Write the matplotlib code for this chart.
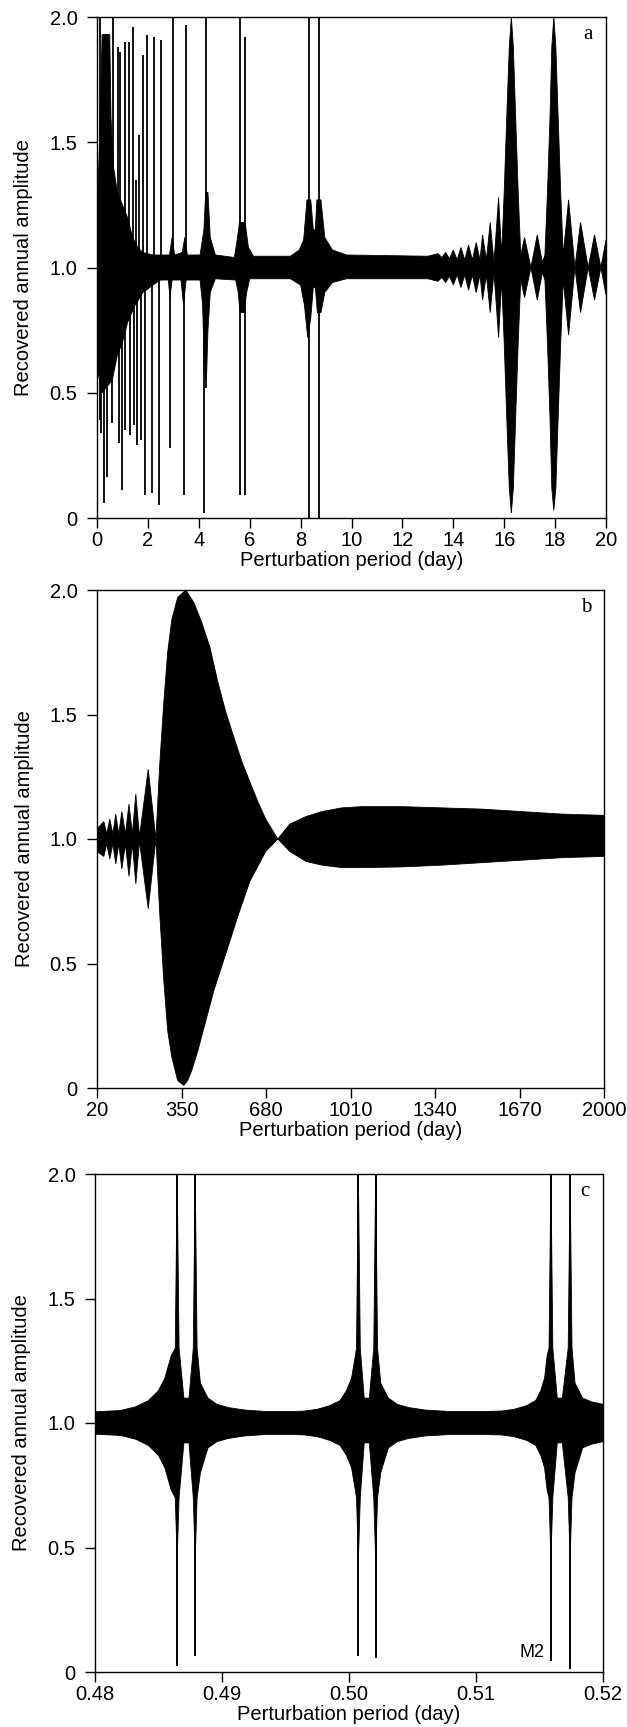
import numpy as np
import matplotlib
matplotlib.use("Agg")
import matplotlib.pyplot as plt

plt.rcParams['font.family'] = ['Liberation Sans', 'DejaVu Sans']

# ---------------- Panel a : 0 - 20 day ----------------
a_up_x = [0.00, 0.10, 0.20, 0.50, 0.55, 0.65, 0.80, 1.00, 1.20, 1.40, 1.60, 1.80, 2.20, 2.85,
          2.95, 3.05, 3.35, 3.45, 3.55, 4.05, 4.20, 4.27, 4.36, 4.45, 4.65, 5.40, 5.52, 5.60,
          5.82, 5.95, 6.15, 7.60, 7.95, 8.12, 8.25, 8.40, 8.50, 8.58, 8.64, 8.80, 8.95, 9.25,
          9.80, 13.0, 13.4, 13.55, 13.7, 13.85, 14.0, 14.15, 14.3, 14.45, 14.6, 14.75, 14.9,
          15.05, 15.15, 15.3, 15.45, 15.6, 15.78, 15.9,
          16.0, 16.1, 16.2, 16.28, 16.36, 16.45, 16.55, 16.65, 16.80, 17.05, 17.30, 17.5,
          17.6, 17.7, 17.8, 17.87, 17.95, 18.03, 18.12, 18.22, 18.32, 18.53, 18.78, 19.0,
          19.3, 19.55, 19.8, 20.0]
a_up_y = [1.20, 1.50, 1.93, 1.93, 1.60, 1.40, 1.30, 1.25, 1.20, 1.12, 1.08, 1.06, 1.05, 1.05,
          1.12, 1.05, 1.06, 1.12, 1.05, 1.05, 1.15, 1.30, 1.30, 1.12, 1.05, 1.04, 1.12, 1.18,
          1.18, 1.08, 1.045, 1.045, 1.07, 1.11, 1.27, 1.27, 1.15, 1.15, 1.27, 1.27, 1.12, 1.07,
          1.05, 1.045, 1.055, 1.04, 1.06, 1.035, 1.07, 1.03, 1.08, 1.03, 1.09, 1.03, 1.10,
          1.03, 1.13, 1.03, 1.18, 1.02, 1.28, 1.05,
          1.30, 1.60, 1.88, 2.00, 1.88, 1.60, 1.30, 1.05, 1.12, 1.00, 1.13, 1.02,
          1.05, 1.30, 1.60, 1.88, 2.00, 1.88, 1.60, 1.30, 1.05, 1.27, 1.00, 1.18,
          1.00, 1.13, 1.00, 1.11]
a_lo_x = [0.00, 0.20, 0.60, 0.80, 1.00, 1.20, 1.50, 1.80, 2.20, 2.50, 2.80, 2.87, 2.95, 3.30,
          3.40, 3.50, 4.05, 4.15, 4.22, 4.30, 4.36, 4.45, 4.65, 5.45, 5.55, 5.62, 5.78, 5.88,
          6.00, 7.60, 8.00, 8.15, 8.28, 8.40, 8.50, 8.58, 8.66, 8.80, 8.95, 9.25, 9.80, 13.0,
          13.4, 13.55, 13.7, 13.85, 14.0, 14.15, 14.3, 14.45, 14.6, 14.75, 14.9, 15.05, 15.15,
          15.3, 15.45, 15.6, 15.78, 15.9, 16.0, 16.1,
          16.2, 16.28, 16.36, 16.45, 16.55, 16.65, 16.80, 17.05, 17.30, 17.5, 17.6, 17.7,
          17.8, 17.87, 17.95, 18.03, 18.12, 18.22, 18.32, 18.53, 18.78, 19.0, 19.3, 19.55,
          19.8, 20.0]
a_lo_y = [0.60, 0.50, 0.55, 0.65, 0.70, 0.78, 0.85, 0.90, 0.93, 0.95, 0.95, 0.88, 0.95, 0.95,
          0.85, 0.95, 0.95, 0.85, 0.60, 0.55, 0.75, 0.90, 0.955, 0.95, 0.90, 0.82, 0.82, 0.90,
          0.955, 0.955, 0.93, 0.85, 0.72, 0.80, 0.92, 0.92, 0.82, 0.82, 0.90, 0.94, 0.955, 0.955,
          0.945, 0.96, 0.94, 0.965, 0.93, 0.97, 0.92, 0.97, 0.91, 0.97, 0.90, 0.97, 0.87,
          0.97, 0.82, 0.98, 0.72, 0.95, 0.70, 0.40,
          0.12, 0.02, 0.12, 0.40, 0.70, 0.95, 0.88, 1.00, 0.87, 0.98, 0.95, 0.70,
          0.40, 0.12, 0.03, 0.12, 0.40, 0.70, 0.95, 0.73, 1.00, 0.82, 1.00, 0.87,
          1.00, 0.89]
a_spk_x = [0.11, 0.12, 0.17, 0.27, 0.41, 0.58, 0.63, 0.83, 0.87, 0.90, 0.98, 1.09, 1.10, 1.26,
           1.28, 1.41, 1.45, 1.55, 1.59, 1.65, 1.72, 1.80, 1.88, 1.96, 2.16, 2.24, 2.43, 2.51,
           2.87, 2.97, 3.40, 3.50, 4.22, 4.30, 5.63, 5.80, 8.33, 8.71]
a_spk_lo = [0.39, 1.00, 0.34, 0.06, 0.165, 0.38, 1.00, 1.00, 0.30, 1.00, 0.11, 0.35, 1.00, 1.00,
            0.33, 1.00, 0.37, 1.00, 0.29, 1.00, 0.31, 1.00, 0.09, 1.00, 0.10, 1.00, 0.05, 1.00,
            0.28, 1.00, 0.09, 1.00, 0.02, 0.52, 0.09, 0.09, 0.00, 0.00]
a_spk_hi = [1.00, 2.00, 1.00, 1.00, 1.00, 1.00, 2.00, 1.88, 1.00, 1.86, 1.00, 1.00, 1.90, 1.90,
            1.00, 1.96, 1.00, 1.35, 1.00, 1.53, 1.00, 1.85, 1.00, 1.93, 1.00, 1.92, 1.00, 1.91,
            1.00, 2.00, 1.00, 1.97, 1.00, 2.00, 2.00, 1.92, 2.00, 2.00]

# ---------------- Panel b : 20 - 2000 day ----------------
b_up_x = [20, 46.6, 58, 70, 82, 93.4, 105, 117, 131, 145, 158, 171.6, 186, 220, 250, 265, 281,
          296, 312, 335, 367, 398, 429, 461, 492, 523, 554, 586, 617, 648, 679, 726, 773, 836,
          898, 976, 1054, 1211, 1367, 1523, 1680, 1836, 2000]
b_up_y = [1.04, 1.07, 1.02, 1.08, 1.02, 1.10, 1.02, 1.11, 1.02, 1.14, 1.02, 1.18, 1.01, 1.28,
          1.00, 1.30, 1.55, 1.75, 1.88, 1.97, 2.00, 1.95, 1.87, 1.77, 1.63, 1.51, 1.41, 1.31,
          1.23, 1.15, 1.08, 1.00, 1.06, 1.09, 1.11, 1.125, 1.13, 1.13, 1.125, 1.12, 1.11, 1.10,
          1.095]
b_lo_x = [20, 46.6, 58, 70, 82, 93.4, 105, 117, 131, 145, 158, 171.6, 186, 220, 250, 265, 281,
          296, 312, 335, 359, 374, 390, 414, 445, 476, 507.5, 539, 570, 617, 648, 679, 726, 773,
          836, 898, 976, 1054, 1211, 1367, 1523, 1680, 1836, 2000]
b_lo_y = [0.95, 0.93, 0.98, 0.92, 0.98, 0.90, 0.98, 0.88, 0.98, 0.85, 0.98, 0.82, 0.99, 0.72,
          1.00, 0.70, 0.43, 0.23, 0.125, 0.03, 0.01, 0.03, 0.07, 0.15, 0.27, 0.39, 0.49, 0.59,
          0.69, 0.83, 0.89, 0.95, 1.00, 0.95, 0.91, 0.895, 0.885, 0.885, 0.888, 0.895, 0.905,
          0.915, 0.925, 0.93]

# ---------------- Panel c : 0.48 - 0.52 day ----------------
c_up_x = [0.4800, 0.4820, 0.4832, 0.4842, 0.4850, 0.4855, 0.4860, 0.48632, 0.48647, 0.48662,
          0.4870, 0.4874, 0.48774, 0.48789, 0.48804, 0.4883, 0.4889, 0.4896, 0.4905, 0.4918,
          0.4935, 0.4955,
          0.4965, 0.4975, 0.4985, 0.4993, 0.4998, 0.5002, 0.5005, 0.50059, 0.50074, 0.50089,
          0.5012, 0.5016, 0.50195, 0.50210, 0.50225, 0.5025, 0.5031, 0.5038, 0.5047, 0.5060,
          0.5080, 0.5105,
          0.5120, 0.5130, 0.5140, 0.5147, 0.5151, 0.5154, 0.5156, 0.51575, 0.51590, 0.51605,
          0.5164, 0.5168, 0.51726, 0.51741, 0.51756, 0.5178, 0.5184, 0.5191, 0.5200]
c_up_y = [1.045, 1.05, 1.065, 1.09, 1.13, 1.18, 1.27, 1.30, 2.00, 1.30,
          1.10, 1.10, 1.30, 2.00, 1.30, 1.16, 1.10, 1.075, 1.062, 1.052,
          1.046, 1.046,
          1.048, 1.055, 1.07, 1.09, 1.13, 1.18, 1.27, 1.30, 2.00, 1.30,
          1.10, 1.10, 1.30, 2.00, 1.30, 1.16, 1.10, 1.075, 1.062, 1.052,
          1.046, 1.046,
          1.048, 1.055, 1.07, 1.09, 1.13, 1.18, 1.27, 1.30, 2.00, 1.30,
          1.10, 1.10, 1.30, 2.00, 1.30, 1.16, 1.10, 1.085, 1.075]
c_lo_x = c_up_x
c_lo_y = [0.955, 0.95, 0.935, 0.91, 0.87, 0.82, 0.73, 0.70, 0.45, 0.70,
          0.92, 0.92, 0.70, 0.45, 0.70, 0.80, 0.90, 0.925, 0.938, 0.948,
          0.954, 0.954,
          0.952, 0.945, 0.93, 0.91, 0.87, 0.82, 0.73, 0.70, 0.45, 0.70,
          0.92, 0.92, 0.70, 0.45, 0.70, 0.80, 0.90, 0.925, 0.938, 0.948,
          0.954, 0.954,
          0.952, 0.945, 0.93, 0.91, 0.87, 0.82, 0.73, 0.70, 0.45, 0.70,
          0.92, 0.92, 0.70, 0.45, 0.70, 0.80, 0.90, 0.915, 0.925]
c_spk_x = [0.48647, 0.48789, 0.50074, 0.50210, 0.51590, 0.51741]
c_spk_lo = [0.023, 0.066, 0.063, 0.056, 0.045, 0.013]
c_spk_hi = [2.0, 2.0, 2.0, 2.0, 2.0, 2.0]

yticks = [0, 0.5, 1.0, 1.5, 2.0]
ytick_labels = ['0', '0.5', '1.0', '1.5', '2.0']
a_xticks = [0, 2, 4, 6, 8, 10, 12, 14, 16, 18, 20]
b_xticks = [20, 350, 680, 1010, 1340, 1670, 2000]
c_xticks = [0.48, 0.49, 0.50, 0.51, 0.52]
c_xtick_labels = ['0.48', '0.49', '0.50', '0.51', '0.52']

W, H = 627, 1727
fig = plt.figure(figsize=(W / 100, H / 100), dpi=100)


def make_ax(l, r, t, b):
    return fig.add_axes([l / W, 1 - b / H, (r - l) / W, (b - t) / H])


ax_a = make_ax(97, 606, 17, 518)
ax_b = make_ax(97, 604, 590, 1088)
ax_c = make_ax(95, 603, 1174, 1672)


def band(ax, ux, uy, lx, ly):
    px = np.concatenate([np.asarray(ux, float), np.asarray(lx, float)[::-1]])
    py = np.concatenate([np.asarray(uy, float), np.asarray(ly, float)[::-1]])
    ax.fill(px, py, color='black', lw=0.6, zorder=2)


band(ax_a, a_up_x, a_up_y, a_lo_x, a_lo_y)
ax_a.vlines(a_spk_x, a_spk_lo, a_spk_hi, color='black', lw=1.3, zorder=3)
band(ax_b, b_up_x, b_up_y, b_lo_x, b_lo_y)
band(ax_c, c_up_x, c_up_y, c_lo_x, c_lo_y)
ax_c.vlines(c_spk_x, c_spk_lo, c_spk_hi, color='black', lw=1.4, zorder=3)

FS = 14.5
for ax, xt, xl, xlab, letter in [
        (ax_a, a_xticks, (0, 20), None, 'a'),
        (ax_b, b_xticks, (20, 2000), None, 'b'),
        (ax_c, c_xticks, (0.48, 0.52), c_xtick_labels, 'c')]:
    ax.set_xlim(*xl)
    ax.set_ylim(0, 2.0)
    ax.set_xticks(xt)
    if xlab is not None:
        ax.set_xticklabels(xlab)
    ax.set_yticks(yticks)
    ax.set_yticklabels(ytick_labels)
    ax.tick_params(axis='y', direction='out', length=7, width=1.0, pad=7, labelsize=FS)
    ax.tick_params(axis='x', direction='out', length=7, width=1.0, pad=2, labelsize=FS)
    for s in ax.spines.values():
        s.set_linewidth(1.0)
    ax.set_xlabel('Perturbation period (day)', fontsize=FS, labelpad=1)
    ax.set_ylabel('Recovered annual amplitude', fontsize=FS)
    ax.yaxis.set_label_coords(-0.125, 0.5)
    ax.text(0.965, 0.965, letter, transform=ax.transAxes, ha='center', va='center',
            fontsize=15, family='Liberation Serif')

ax_c.text(0.5154, 0.08, 'M2', ha='right', va='center', fontsize=13)

fig.savefig('out.png', dpi=100)
